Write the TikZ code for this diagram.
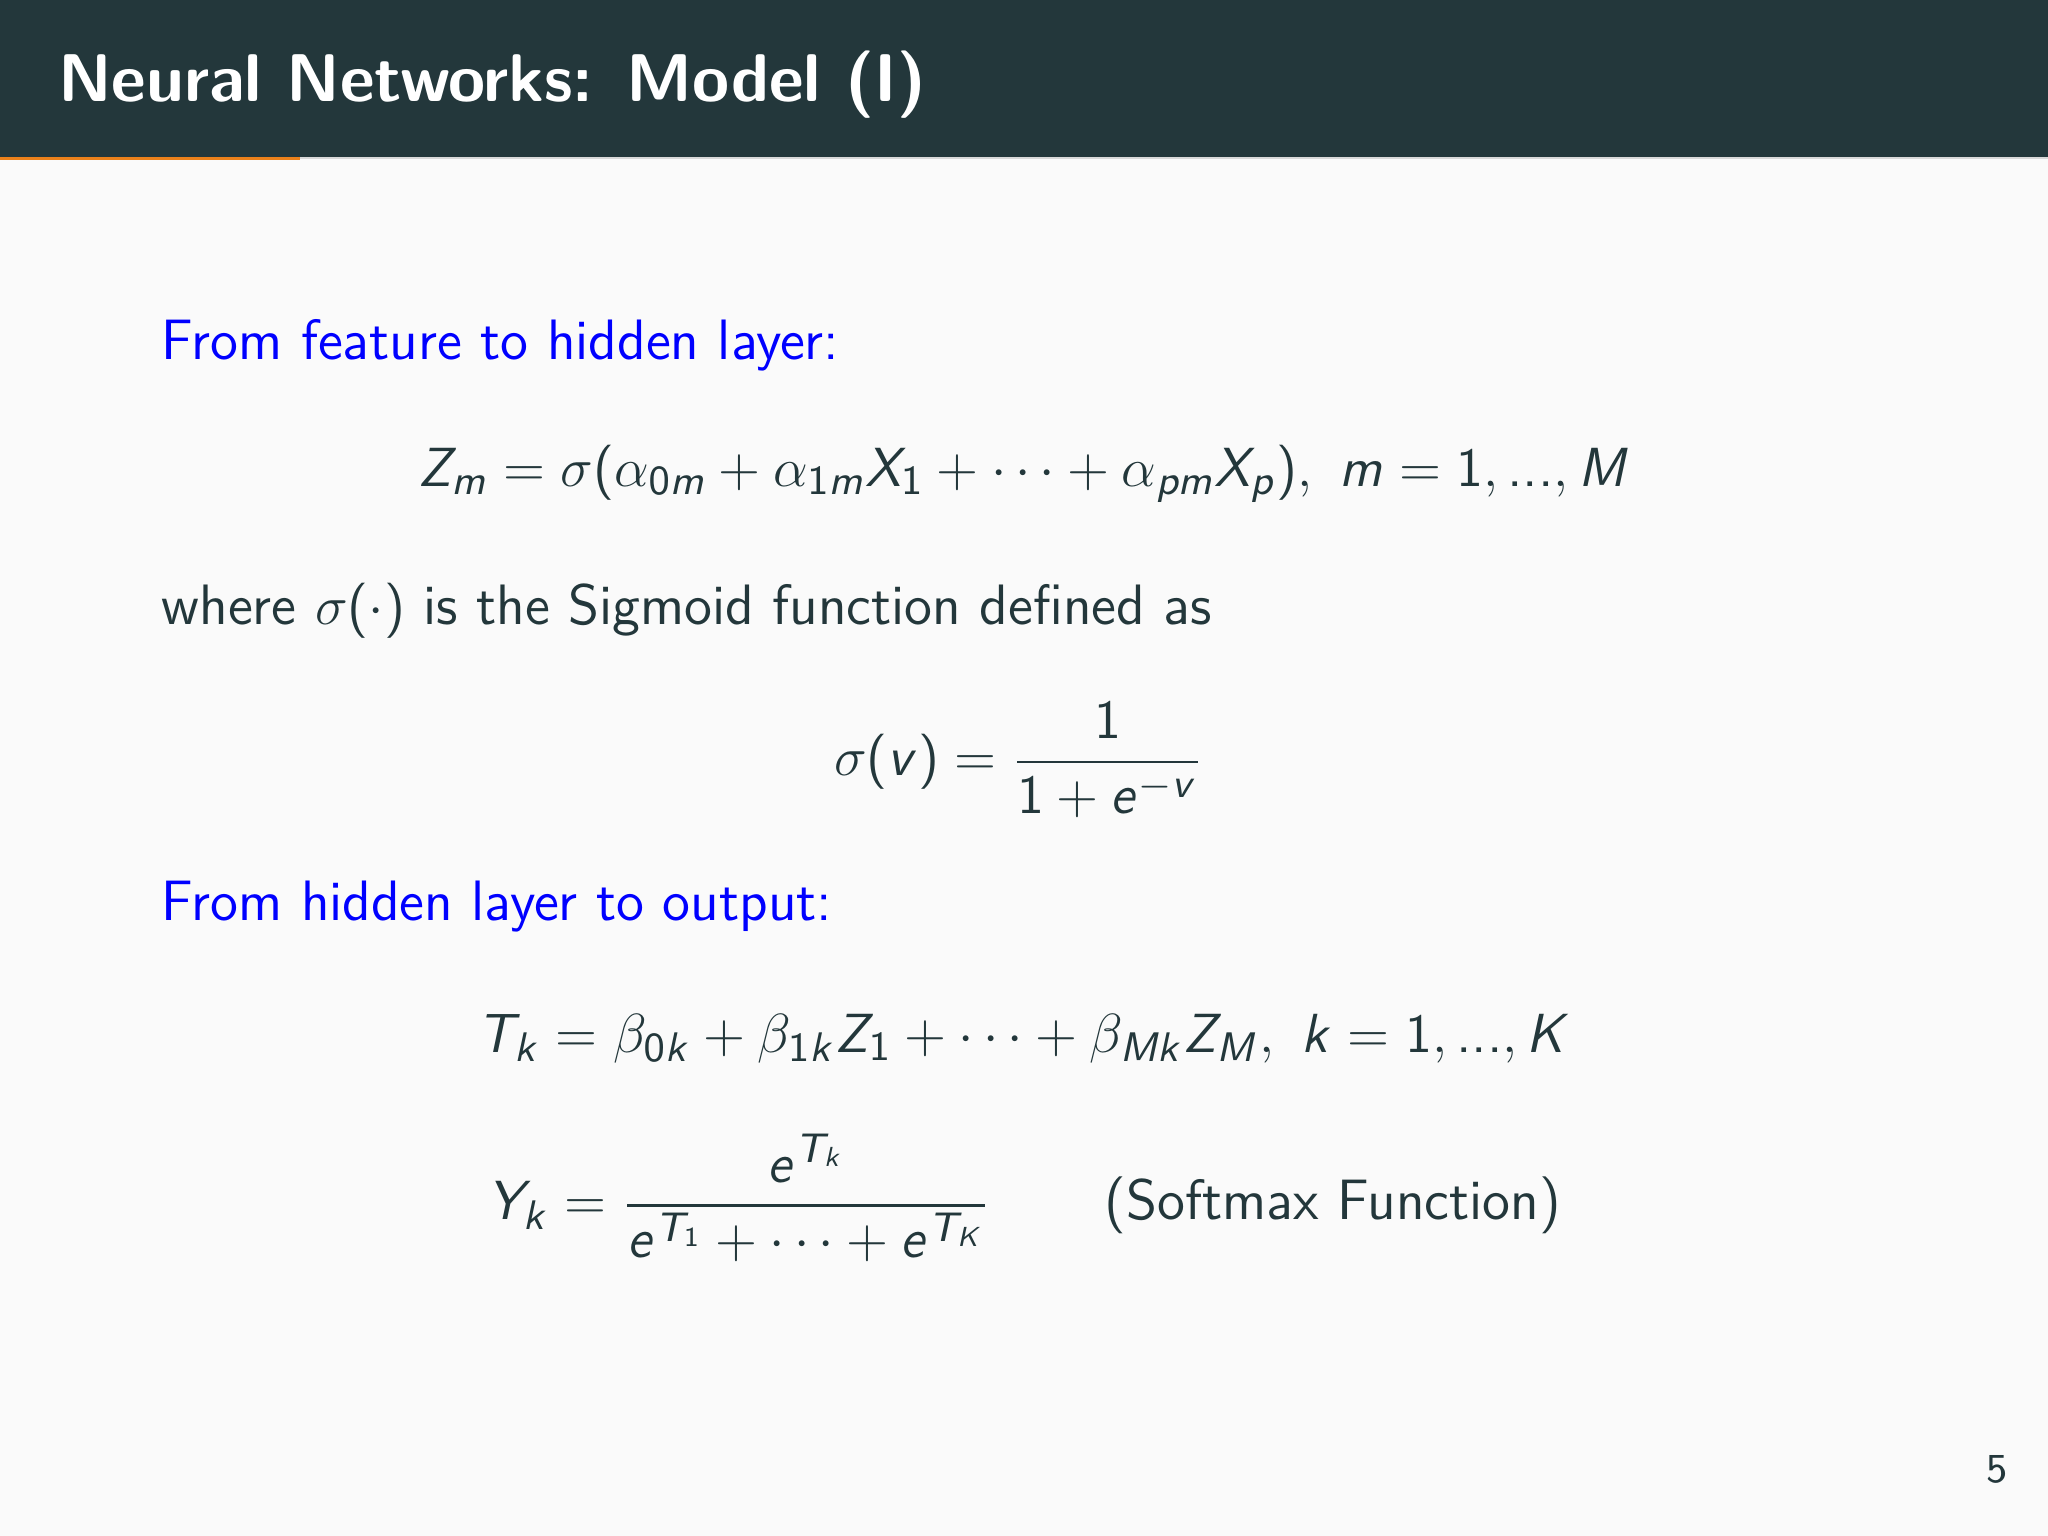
\documentclass[tikz,border=0pt]{standalone}
\usepackage{amsmath}
\DeclareSymbolFont{sfop}{OT1}{cmss}{m}{n}
\DeclareSymbolFont{sfit}{OT1}{cmss}{m}{sl}
\DeclareMathSymbol{Z}{\mathalpha}{sfit}{`Z}
\DeclareMathSymbol{m}{\mathalpha}{sfit}{`m}
\DeclareMathSymbol{X}{\mathalpha}{sfit}{`X}
\DeclareMathSymbol{p}{\mathalpha}{sfit}{`p}
\DeclareMathSymbol{M}{\mathalpha}{sfit}{`M}
\DeclareMathSymbol{v}{\mathalpha}{sfit}{`v}
\DeclareMathSymbol{e}{\mathalpha}{sfit}{`e}
\DeclareMathSymbol{T}{\mathalpha}{sfit}{`T}
\DeclareMathSymbol{k}{\mathalpha}{sfit}{`k}
\DeclareMathSymbol{K}{\mathalpha}{sfit}{`K}
\DeclareMathSymbol{Y}{\mathalpha}{sfit}{`Y}
\DeclareMathSymbol{0}{\mathalpha}{sfop}{`0}
\DeclareMathSymbol{1}{\mathalpha}{sfop}{`1}
\DeclareMathSymbol{(}{\mathopen}{sfop}{`(}
\DeclareMathSymbol{)}{\mathclose}{sfop}{`)}
\definecolor{hdr}{HTML}{23373B}
\definecolor{acc}{HTML}{EB811B}
\definecolor{bg}{HTML}{FAFAFA}
\definecolor{txt}{HTML}{23373B}
\tikzset{body/.style={anchor=base west,text=txt,font=\fontsize{12.4}{15}\selectfont\sffamily,inner sep=0pt},
 eq/.style={anchor=center,text=txt,font=\fontsize{12.4}{15}\selectfont\sffamily,inner sep=0pt}}
\begin{document}
\begin{tikzpicture}[x=1cm,y=-1cm]
\fill[bg] (0,0) rectangle (15.68,11.76);
\useasboundingbox (0,0) rectangle (15.68,11.76);
\fill[hdr] (0,0) rectangle (15.68,1.2);
\fill[acc] (0,1.2) rectangle (2.3,1.225);
\fill[gray!30] (2.3,1.2) rectangle (15.68,1.215);
\node[anchor=base west,text=white,inner sep=0pt,font=\fontsize{14.7}{17}\selectfont\sffamily\bfseries] (title) at (0.44,0.78) {Neural Networks: Model (I)};
\node[body,text=blue] (h1) at (1.23,2.75) {From feature to hidden layer:};
\node[eq] (e1) at (7.84,3.63) {$Z_m=\sigma(\alpha_{0m}+\alpha_{1m}X_1+\cdots+\alpha_{pm}X_p),\ m=1,\text{...},M$};
\node[body] (w) at (1.23,4.78) {where $\sigma(\cdot)$ is the Sigmoid function defined as};
\node[eq] (e2) at (7.80,5.82) {$\displaystyle \sigma(v)=\frac{1}{1+e^{-v}}$};
\node[body,text=blue] (h2) at (1.23,7.05) {From hidden layer to output:};
\node[eq] (e3) at (7.84,7.95) {$T_k=\beta_{0k}+\beta_{1k}Z_1+\cdots+\beta_{Mk}Z_M,\ k=1,\text{...},K$};
\node[eq] (e4) at (7.84,9.17) {$\displaystyle Y_k=\frac{e^{T_k}}{e^{T_1}+\cdots+e^{T_K}}\qquad\text{(Softmax Function)}$};
\node[anchor=base east,text=txt,inner sep=0pt,font=\fontsize{9}{11}\selectfont\sffamily] (pg) at (15.38,11.35) {5};
\end{tikzpicture}
\end{document}
